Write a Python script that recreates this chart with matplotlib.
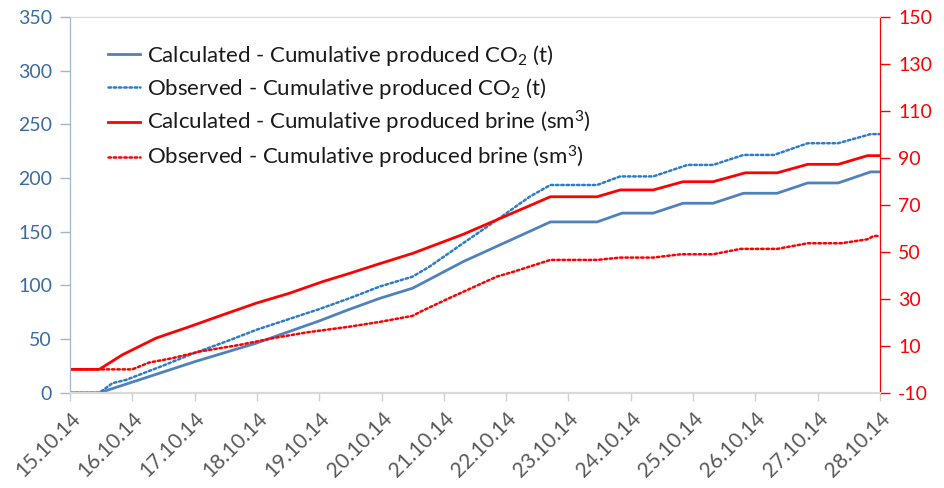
import numpy as np
import pandas as pd
import matplotlib
matplotlib.use("Agg")
import matplotlib.pyplot as plt
import matplotlib.dates as mdates

plt.rcParams['font.family'] = ['Lato', 'DejaVu Sans']
plt.rcParams['mathtext.default'] = 'regular'
plt.rcParams['axes.unicode_minus'] = False

start = pd.Timestamp('2014-10-15')

# day offsets from 15.10.14 and values
calc_co2_days = [0, 0.47, 1.11, 2.0, 2.99, 4.0, 4.49, 4.97, 5.5, 6.31, 7.71, 8.46, 8.86,
                 9.36, 9.84, 10.32, 10.81, 11.35, 11.84, 12.33, 12.85, 13.0]
calc_co2 = [0, 0, 12.1, 29, 46.3, 67, 77.9, 88, 97.5, 122.2, 159.2, 159.2, 167.4,
            167.4, 176.6, 176.6, 185.9, 185.9, 195.5, 195.5, 205.8, 205.8]

obs_co2_days = [0, 0.47, 0.68, 0.9, 1.5, 1.92, 2.56, 2.99, 4.0, 4.49, 4.97, 5.5, 5.77,
                6.31, 6.85, 7.38, 7.71, 8.46, 8.83, 9.36, 9.91, 10.32, 10.81, 11.3,
                11.84, 12.33, 12.85, 13.0]
obs_co2 = [0, 0, 9, 12.1, 25.5, 35.4, 49, 58.7, 78, 88.2, 99, 108.3, 117.6,
           139.4, 161, 182.8, 193.6, 193.6, 201.6, 201.6, 212.3, 212.3, 221.6, 221.6,
           232.5, 232.5, 241, 241]

calc_brine_days = [0, 0.47, 0.84, 1.38, 1.92, 2.45, 2.99, 3.52, 4.06, 4.49, 4.97, 5.5,
                   6.31, 7.71, 8.46, 8.83, 9.36, 9.84, 10.32, 10.84, 11.35, 11.84,
                   12.33, 12.8, 13.0]
calc_brine = [0, 0, 6.2, 13.3, 18.2, 23.2, 28.2, 32.4, 37.4, 40.9, 45.0, 49.4,
              57.5, 73.5, 73.5, 76.4, 76.4, 79.9, 79.9, 83.7, 83.7, 87.3,
              87.3, 91, 91]

obs_brine_days = [0, 1.0, 1.27, 1.65, 2.08, 2.72, 3.26, 3.79, 4.49, 4.97, 5.5, 5.62,
                  6.06, 6.85, 7.11, 7.71, 8.46, 8.83, 9.36, 9.8, 10.32, 10.76, 11.35,
                  11.84, 12.38, 12.8, 12.9, 13.0]
obs_brine = [0, 0, 2.9, 4.8, 7.6, 10.4, 13.3, 15.7, 18.2, 20.2, 22.8, 24.5,
             30, 39.5, 41.5, 46.6, 46.6, 47.6, 47.6, 49, 49, 51.3, 51.3,
             53.7, 53.7, 55.4, 56.8, 56.8]


def to_dates(days):
    return start + pd.to_timedelta(days, unit='D')


fig = plt.figure(figsize=(9.44, 4.88), dpi=100)
ax = fig.add_axes([0.0742, 0.195, 0.858, 0.77])
ax2 = ax.twinx()

l1, = ax.plot(to_dates(calc_co2_days), calc_co2, color='#4F81BD', lw=2.0,
              label='Calculated - Cumulative produced CO$_2$ (t)')
l2, = ax.plot(to_dates(obs_co2_days), obs_co2, color='#2C7CCB', lw=1.8,
              linestyle=(0, (1, 1.1)), dash_capstyle='round',
              label='Observed - Cumulative produced CO$_2$ (t)')
l3, = ax2.plot(to_dates(calc_brine_days), calc_brine, color='#FF0000', lw=2.0,
               label='Calculated - Cumulative produced brine (sm$^3$)')
l4, = ax2.plot(to_dates(obs_brine_days), obs_brine, color='#FF0000', lw=1.8,
               linestyle=(0, (1, 1.1)), dash_capstyle='round',
               label='Observed - Cumulative produced brine (sm$^3$)')

ax.set_xlim(start, start + pd.Timedelta(days=13))
ax.set_ylim(0, 350)
ax.set_yticks(np.arange(0, 351, 50))
ax2.set_ylim(-10, 150)
ax2.set_yticks(np.arange(-10, 151, 20))

ax.xaxis.set_major_locator(mdates.DayLocator())
ax.xaxis.set_major_formatter(mdates.DateFormatter('%d.%m.%y'))
for lab in ax.get_xticklabels():
    lab.set_rotation(45)
    lab.set_ha('right')
    lab.set_rotation_mode('anchor')

ax.tick_params(axis='x', colors='#D0D0D0', labelcolor='#595959', labelsize=15,
               length=6, width=1, pad=5)
ax.tick_params(axis='y', colors='#9DB7D5', labelcolor='#3A6BA5', labelsize=14,
               length=7, width=1, pad=6)
ax2.tick_params(axis='y', colors='#FF0000', labelcolor='#FF0000', labelsize=14,
                length=7, width=1, pad=6)

for a in (ax, ax2):
    a.spines['top'].set_color('#D9D9D9')
    a.spines['bottom'].set_color('#D9D9D9')
    a.spines['bottom'].set_linewidth(1.5)
    a.spines['left'].set_color('#9DB7D5')
    a.spines['right'].set_color('#FF0000')

ax.legend(handles=[l1, l2, l3, l4], loc='upper left', bbox_to_anchor=(0.022, 0.985),
          frameon=False, fontsize=16, handlelength=1.45, handletextpad=0.33,
          labelspacing=0.36, labelcolor='#1A1A1A')

fig.savefig('out.png', dpi=100)
